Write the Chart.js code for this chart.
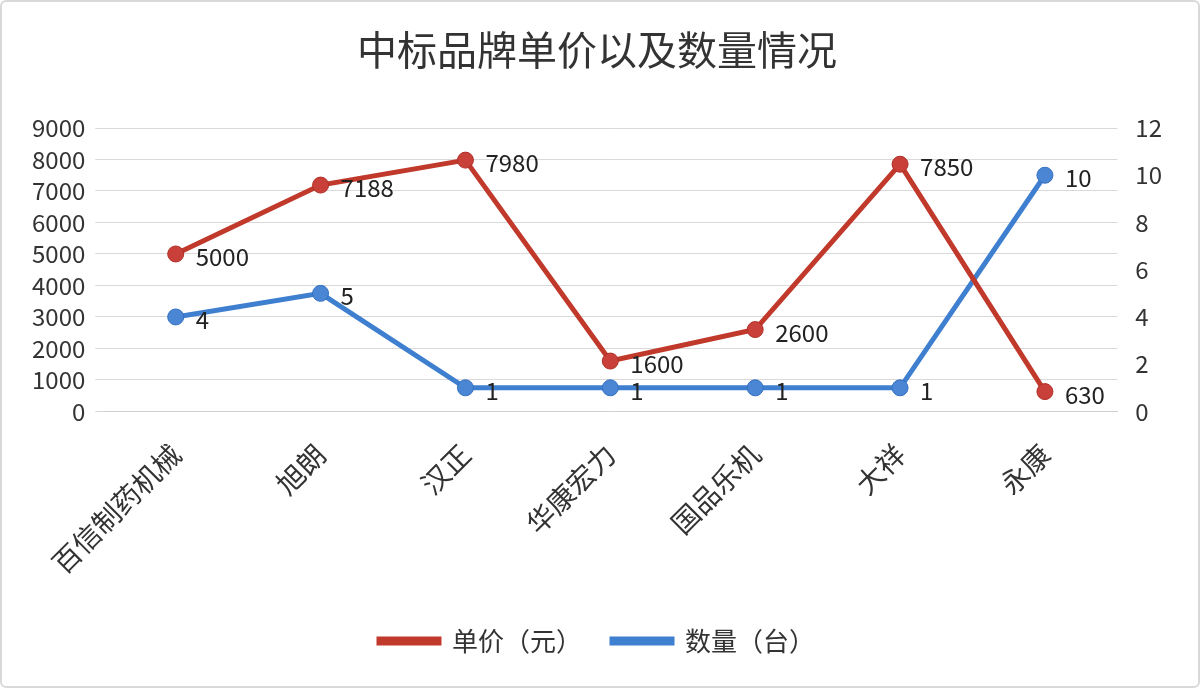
<!DOCTYPE html>
<html><head><meta charset="utf-8">
<script src="https://cdn.jsdelivr.net/npm/chart.js@4/dist/chart.umd.min.js"></script>
<style>html,body{margin:0;background:#fff}#w{width:1200px;height:688px;box-sizing:border-box;border:2px solid #d9d9d9;border-radius:6px}</style>
</head><body><div id="w"><canvas id="c" width="1196" height="684"></canvas></div>
<script>
const categories=["百信制药机械","旭朗","汉正","华康宏力","国品乐机","大祥","永康"];
const prices=[5000,7188,7980,1600,2600,7850,630];
const quantities=[4,5,1,1,1,1,10];
const F='"Noto Sans CJK SC","Noto Sans",sans-serif';
const labelPlugin={id:'lbl',afterDatasetsDraw(ch){const ctx=ch.ctx;ctx.save();ctx.font='24px '+F;ctx.fillStyle='#222';ctx.textBaseline='middle';
ch.data.datasets.forEach((d,i)=>{ch.getDatasetMeta(i).data.forEach((p,j)=>{ctx.fillText(String(d.data[j]),p.x+20,p.y+3);});});ctx.restore();}};
new Chart(document.getElementById('c'),{type:'line',
data:{labels:categories,datasets:[
{label:'单价（元）',data:prices,yAxisID:'y',borderColor:'#c0392b',backgroundColor:'#c0392b',borderWidth:5,pointRadius:8,pointBackgroundColor:'#c9403a',pointBorderColor:'#b03028',pointBorderWidth:1,tension:0},
{label:'数量（台）',data:quantities,yAxisID:'y1',borderColor:'#3f7fd0',backgroundColor:'#3f7fd0',borderWidth:5,pointRadius:8,pointBackgroundColor:'#4a86d4',pointBorderColor:'#3470c0',pointBorderWidth:1,tension:0}]},
options:{responsive:false,animation:false,devicePixelRatio:1,
layout:{padding:{left:20,right:26,top:10,bottom:22}},
plugins:{title:{display:true,text:'中标品牌单价以及数量情况',font:{family:F,size:40,weight:'normal'},color:'#333',padding:{top:14,bottom:54}},
legend:{position:'bottom',labels:{boxWidth:60,boxHeight:4,font:{family:F,size:26},color:'#333',padding:30}},
tooltip:{enabled:false}},
scales:{x:{offset:true,grid:{display:false},border:{color:'#d0d0d0'},ticks:{font:{family:F,size:28},color:'#333',maxRotation:45,minRotation:45,padding:18,autoSkip:false}},
y:{min:0,max:9000,ticks:{stepSize:1000,autoSkip:false,font:{family:F,size:24},color:'#333',callback:v=>String(v),padding:10},grid:{color:'#d9d9d9'},border:{display:false}},
y1:{position:'right',min:0,max:12,ticks:{stepSize:2,autoSkip:false,font:{family:F,size:24},color:'#333',padding:10},grid:{display:false},border:{display:false}}}},
plugins:[labelPlugin]});
</script></body></html>
